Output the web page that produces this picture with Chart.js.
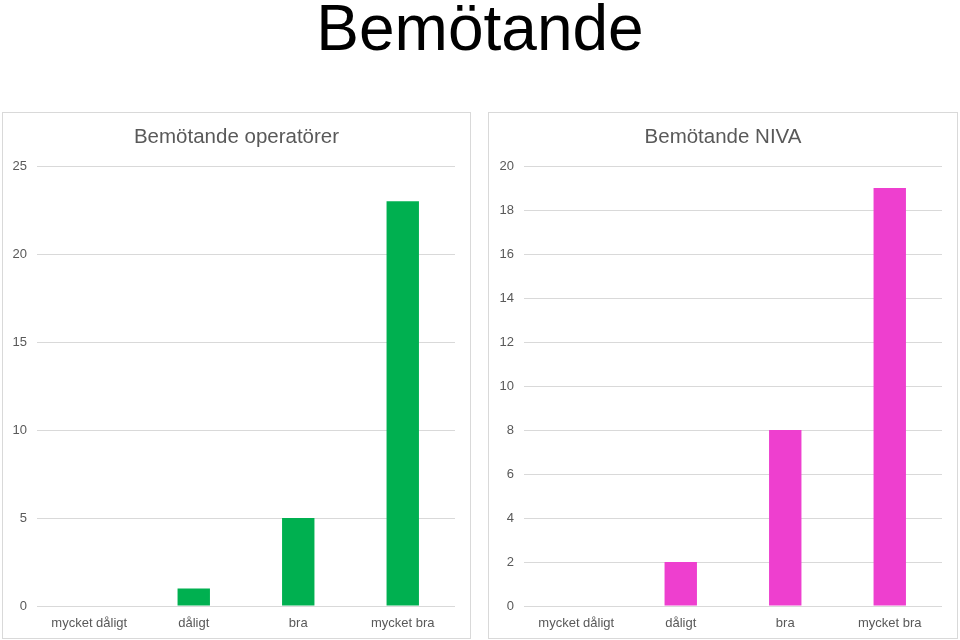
<!DOCTYPE html>
<html><head><meta charset="utf-8">
<script src="https://cdn.jsdelivr.net/npm/chart.js@4"></script>
<style>
html,body{margin:0;padding:0;background:#fff;width:960px;height:640px;overflow:hidden;font-family:"Liberation Sans",Arial,sans-serif;}
#main{position:absolute;left:0;top:0;width:960px;text-align:center;font-size:64px;line-height:56px;color:#000;}
.box{position:absolute;top:112px;height:525px;border:1px solid #d9d9d9;background:#fff;}
#b1{left:2px;width:467px;}
#b2{left:488px;width:468px;}
canvas{display:block;}
</style></head><body>
<div id="main">Bemötande</div>
<div class="box" id="b1"><canvas id="c1" width="467" height="525"></canvas></div>
<div class="box" id="b2"><canvas id="c2" width="468" height="525"></canvas></div>
<script>
const categories = ["mycket dåligt", "dåligt", "bra", "mycket bra"];
const operatorerValues = [0, 1, 5, 23];
const nivaValues = [0, 2, 8, 19];
const operatorerTitle = "Bemötande operatörer";
const nivaTitle = "Bemötande NIVA";

const centeredTitle = {
  id: 'centeredTitle',
  afterDraw(chart, args, opts) {
    const ctx = chart.ctx;
    ctx.save();
    ctx.font = '20.5px "Liberation Sans", Arial, sans-serif';
    ctx.fillStyle = '#595959';
    ctx.textAlign = 'center';
    ctx.textBaseline = 'middle';
    ctx.fillText(opts.text, chart.width / 2, 24);
    ctx.restore();
  }
};

function makeChart(id, title, values, color, max, step, axisW) {
  new Chart(document.getElementById(id), {
    type: 'bar',
    data: { labels: categories, datasets: [{ data: values, backgroundColor: color, barPercentage: 0.62, categoryPercentage: 0.5 }] },
    options: {
      responsive: false, animation: false,
      layout: { padding: { left: 0, right: 15, top: 53, bottom: 0 } },
      plugins: {
        legend: { display: false }, tooltip: { enabled: false },
        title: { display: false },
        centeredTitle: { text: title }
      },
      scales: {
        x: {
          grid: { display: false }, border: { display: false },
          ticks: { color: '#595959', padding: 2, maxRotation: 0, font: { family: '"Liberation Sans", Arial, sans-serif', size: 13 } },
          afterFit: s => { s.height = 32; }
        },
        y: {
          min: 0, max: max,
          grid: { color: '#d9d9d9', drawTicks: false, lineWidth: 1 },
          border: { display: false },
          ticks: { stepSize: step, color: '#595959', padding: 10, font: { family: '"Liberation Sans", Arial, sans-serif', size: 13 } },
          afterFit: s => { s.width = axisW; }
        }
      }
    },
    plugins: [centeredTitle]
  });
}
makeChart('c1', operatorerTitle, operatorerValues, '#00B050', 25, 5, 34);
makeChart('c2', nivaTitle, nivaValues, '#EE3FCF', 20, 2, 35);
</script>
</body></html>
